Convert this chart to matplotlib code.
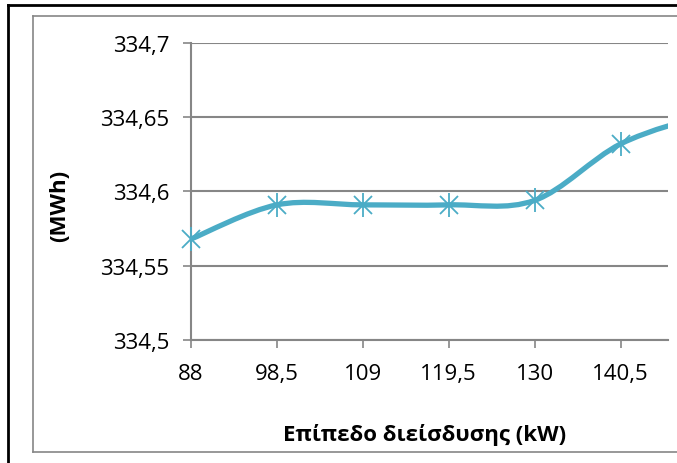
import numpy as np
import matplotlib
matplotlib.use('Agg')
import matplotlib.pyplot as plt
from matplotlib.path import Path
from matplotlib.patches import PathPatch
from matplotlib.lines import Line2D

plt.rcParams['font.family'] = ['Open Sans', 'DejaVu Sans']

# data
x_labels = ['88', '98,5', '109', '119,5', '130', '140,5', '151']
energy = [334.568, 334.591, 334.591, 334.591, 334.594, 334.632, 334.652]
y_ticks = [334.5, 334.55, 334.6, 334.65, 334.7]
y_tick_labels = ['334,5', '334,55', '334,6', '334,65', '334,7']

W, H = 677, 464
fig = plt.figure(figsize=(W / 100, H / 100), dpi=100)

# axes box in pixels: left 191, right 668, top 44, bottom 341
ax = fig.add_axes([191 / W, (H - 341) / H, (668 - 191) / W, (341 - 44) / H])

color = '#4BACC6'
grey = '#868686'

xs = np.arange(len(energy))
pts = np.column_stack([xs, energy])

# smoothed line (excel style, catmull-rom -> bezier)
verts = [tuple(pts[0])]
codes = [Path.MOVETO]
n = len(pts)
for i in range(n - 1):
    p0 = pts[max(i - 1, 0)]
    p1 = pts[i]
    p2 = pts[i + 1]
    p3 = pts[min(i + 2, n - 1)]
    c1 = p1 + (p2 - p0) / 6
    c2 = p2 - (p3 - p1) / 6
    verts += [tuple(c1), tuple(c2), tuple(p2)]
    codes += [Path.CURVE4] * 3
patch = PathPatch(Path(verts, codes), facecolor='none', edgecolor=color,
                  lw=3.8, capstyle='round', joinstyle='round', zorder=3)
ax.add_patch(patch)

# star markers (x + vertical bar); last one lies off the cropped canvas
ax.plot(xs, energy, linestyle='none', marker='x', ms=13, mew=1.3, color=color,
        zorder=4, clip_on=False)
ax.plot(xs, energy, linestyle='none', marker='|', ms=17, mew=1.3, color=color,
        zorder=4, clip_on=False)

ax.set_xticks(xs)
ax.set_xticklabels(x_labels)
ax.set_yticks(y_ticks)
ax.set_yticklabels(y_tick_labels)

# chart is cropped on the right: last category falls outside
ax.set_xlim(0, (668 - 191) / 85.9)
ax.set_ylim(334.5, 334.7)

ax.tick_params(axis='both', colors=grey, labelcolor='black', labelsize=16,
               length=5.5, width=1.2, direction='out')
ax.tick_params(axis='y', pad=10)
ax.tick_params(axis='x', pad=11)

for s in ['top', 'right']:
    ax.spines[s].set_visible(False)
for s in ['left', 'bottom']:
    ax.spines[s].set_color(grey)
    ax.spines[s].set_linewidth(1.5)

ax.yaxis.grid(True, color=grey, linewidth=1.5)
ax.set_axisbelow(True)

# axis titles
fig.text(60 / W, 1 - 206 / H, '(MWh)', rotation=90, ha='center', va='center',
         fontsize=16, fontweight='bold')
fig.text(425 / W, 1 - 435 / H, 'Επίπεδο διείσδυσης (kW)', ha='center', va='center',
         fontsize=16, fontweight='bold')

# chart frames
def px_line(x0, y0, x1, y1, **kw):
    fig.add_artist(Line2D([x0 / W, x1 / W], [1 - y0 / H, 1 - y1 / H],
                          transform=fig.transFigure, **kw))

px_line(8, 6, 8, H, color='black', lw=2)
px_line(8, 6, W, 6, color='black', lw=2)
px_line(33, 17, 33, 453, color=grey, lw=1.2)
px_line(33, 17, W, 17, color=grey, lw=1.2)
px_line(33, 453, W, 453, color=grey, lw=1.2)

fig.savefig('out.png', dpi=100)
